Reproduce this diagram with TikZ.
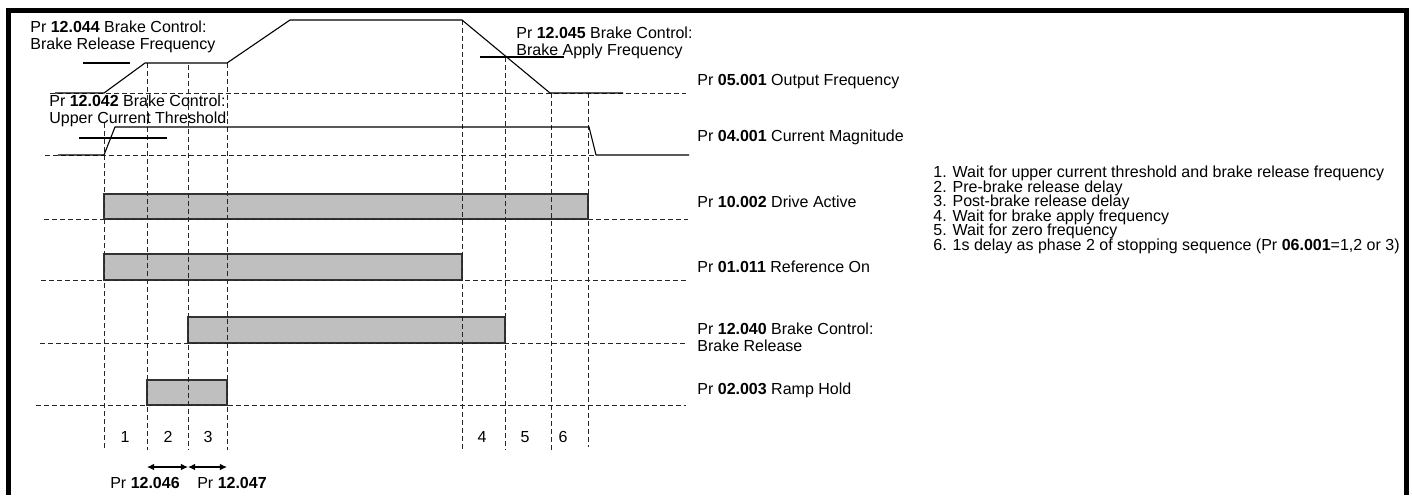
\documentclass[tikz,border=0pt]{standalone}
\usepackage{fontspec}
\setmainfont{Liberation Sans}
\usetikzlibrary{arrows.meta}

\begin{document}
\begin{tikzpicture}[x=0.5pt,y=-0.5pt,
	guide/.style={black!85,line width=0.5pt,dash pattern=on 2.5pt off 1.5pt},
	wave/.style={line width=0.55pt},
	sigbar/.style={draw=black!80,fill=black!25,line width=0.65pt},
	lbl/.style={inner sep=0pt,anchor=west,align=left,font=\fontsize{8}{8.5}\selectfont},
	phase/.style={inner sep=0pt,font=\fontsize{8}{8.5}\selectfont},
	dim/.style={{Latex[length=3.6pt,width=3.4pt]}-{Latex[length=3.6pt,width=3.4pt]},line width=0.55pt}]
%
	\useasboundingbox (0,0) rectangle (1412,495);
	\draw[line width=2.2pt] (8.5,495) -- (8.5,10.3) -- (1406.5,10.3) -- (1406.5,495);
%
	\draw[sigbar] (104,194) rectangle (588,219);
	\draw[sigbar] (104,254) rectangle (462,280);
	\draw[sigbar] (188,317) rectangle (505,343);
	\draw[sigbar] (147,380) rectangle (227,405);
%
	\draw[guide] (50,93) -- (686,93);
	\draw[guide] (45,155) -- (596,155);
	\draw[guide] (44,219) -- (688,219);
	\draw[guide] (41,280) -- (688,280);
	\draw[guide] (40,343) -- (686,343);
	\draw[guide] (36,405) -- (686,405);
%
	\draw[guide] (104,123) -- (104,450);
	\draw[guide] (147,63) -- (147,450);
	\draw[guide] (188,65) -- (188,450);
	\draw[guide] (227,63) -- (227,450);
	\draw[guide] (462,20) -- (462,452);
	\draw[guide] (505,57) -- (505,450);
	\draw[guide] (551,93) -- (551,450);
	\draw[guide] (588,93) -- (588,447);
%
	\draw[wave] (55,93) -- (104,93) -- (145,63) -- (227,63) -- (290,20) -- (462,20) -- (550,93) -- (623,93);
	\draw[wave] (83,63) -- (130,63);
	\draw[wave] (480,57) -- (564,57);
	\draw[wave] (58,155) -- (104,155) -- (115,127) -- (589,127) -- (596,155) -- (689,155);
	\draw[wave] (79,138) -- (167,138);
%
	\node[lbl] (relfreq) at (30,36.7) {Pr \textbf{12.044} Brake Control:\\Brake Release Frequency};
	\node[lbl] (upcur) at (49,110.5) {Pr \textbf{12.042} Brake Control:\\Upper Current Threshold};
	\node[lbl] (appfreq) at (516,43.2) {Pr \textbf{12.045} Brake Control:\\Brake Apply Frequency};
	\node[lbl] (outfreq) at (697,81.7) {Pr \textbf{05.001} Output Frequency};
	\node[lbl] (curmag) at (697,137.7) {Pr \textbf{04.001} Current Magnitude};
	\node[lbl] (drvact) at (697,202) {Pr \textbf{10.002} Drive Active};
	\node[lbl] (refon) at (697,267) {Pr \textbf{01.011} Reference On};
	\node[lbl] (brkrel) at (697,337) {Pr \textbf{12.040} Brake Control:\\Brake Release};
	\node[lbl] (rmphold) at (697,390.7) {Pr \textbf{02.003} Ramp Hold};
%
	\node[lbl,font={\fontsize{8}{7.25}\selectfont\lineskiplimit=-\maxdimen}] (steps) at (933,210)
		{1. Wait for upper current threshold and brake release frequency\\
		2. Pre-brake release delay\\
		3. Post-brake release delay\\
		4. Wait for brake apply frequency\\
		5. Wait for zero frequency\\
		6. 1s delay as phase 2 of stopping sequence (Pr \textbf{06.001}=1,2 or 3)};
%
	\node[phase] (ph1) at (125,437) {1};
	\node[phase] (ph2) at (168,437) {2};
	\node[phase] (ph3) at (208,437) {3};
	\node[phase] (ph4) at (482,437) {4};
	\node[phase] (ph5) at (525,437) {5};
	\node[phase] (ph6) at (563,437) {6};
%
	\coordinate (d2) at (147,467);
	\coordinate (d3) at (188,467);
	\coordinate (d4) at (227,467);
	\draw[dim] (d2) -- (d3);
	\draw[dim] (d3) -- (d4);
	\node[phase] (prerel) at (145,483) {Pr \textbf{12.046}};
	\node[phase] (postrel) at (232,483) {Pr \textbf{12.047}};
%
\end{tikzpicture}
\end{document}
